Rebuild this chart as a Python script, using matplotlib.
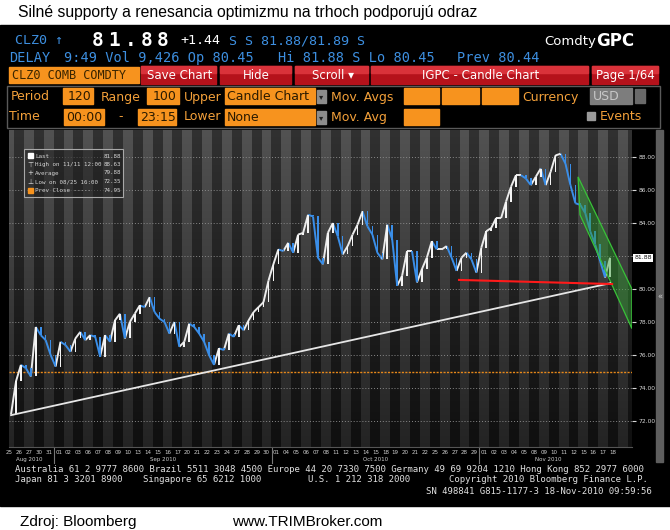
import matplotlib
matplotlib.use("Agg")
import matplotlib.pyplot as plt
from matplotlib.patches import Rectangle, Polygon
from matplotlib.collections import LineCollection
import numpy as np

# trading days on the date axis
aug_days = [25, 26, 27, 30, 31]
sep_days = [1, 2, 3, 6, 7, 8, 9, 10, 13, 14, 15, 16, 17, 20, 21, 22, 23, 24, 27, 28, 29, 30]
oct_days = [1, 4, 5, 6, 7, 8, 11, 12, 13, 14, 15, 18, 19, 20, 21, 22, 25, 26, 27, 28, 29]
nov_days = [1, 2, 3, 4, 5, 8, 9, 10, 11, 12, 15, 16, 17, 18]
month_names = ["Aug 2010", "Sep 2010", "Oct 2010", "Nov 2010"]

# CLZ0 closes, two bars per trading day, from 08/25 16:00 to 11/18 10:00
first_bar_day = 0.69
bars_per_day = 2
closes = [
    72.4, 74.4, 75.4, 75.2, 74.7, 77.7, 77.2, 76.9, 76.0, 75.3,
    76.8, 76.6, 76.2, 77.0, 77.4, 76.9, 77.2, 77.1, 75.9, 77.2,
    76.8, 78.1, 78.5, 77.0, 78.0, 78.5, 79.0, 78.9, 79.5, 78.6,
    78.2, 78.0, 77.3, 78.0, 76.5, 76.8, 77.9, 77.7, 77.3, 76.8,
    76.0, 75.4, 76.4, 76.3, 77.3, 77.1, 77.8, 77.5, 78.1, 78.6,
    78.9, 79.2, 80.5, 81.5, 82.4, 82.3, 82.8, 82.2, 83.3, 83.4,
    84.5, 84.4, 81.9, 81.5, 83.4, 84.0, 83.2, 82.1, 82.6, 83.3,
    83.9, 84.7, 83.8, 83.3, 82.2, 81.8, 83.9, 83.0, 80.2, 80.8,
    82.3, 82.3, 80.4, 81.2, 81.9, 82.9, 82.4, 82.4, 82.6, 81.9,
    81.1, 81.9, 82.2, 81.8, 81.0, 82.5, 83.5, 83.7, 84.3, 84.3,
    85.3, 86.2, 86.9, 86.9, 86.7, 86.3, 86.8, 87.3, 86.3, 87.1,
    88.1, 88.2, 87.6, 86.3, 85.2, 85.1, 84.6, 83.5, 82.7, 81.7,
    80.7, 81.9,
]

last_price = 81.88
prev_close = 74.95
trend_x = [0.69, 61.2]
trend_y = [72.35, 80.35]
support_x = [45.94, 61.4]
support_y = [80.55, 80.30]
channel_x = [57.96, 63.4, 63.4, 58.16]
channel_y = [86.8, 80.0, 77.6, 84.5]
yticks = [72, 74, 76, 78, 80, 82, 84, 86, 88]
legend_rows = [("Last", "81.88"), ("High on 11/11 12:00", "88.63"), ("Average", "79.88"),
               ("Low on 08/25 16:00", "72.35"), ("Prev Close -----", "74.95")]

mono = "DejaVu Sans Mono"
blue = "#3d8fe0"
orange = "#f7931e"
otext = "#f3a03a"

fig = plt.figure(figsize=(6.7, 5.3), dpi=100)
fig.patch.set_facecolor("white")

bg = fig.add_axes([0, 0, 1, 1])
bg.set_xlim(0, 670)
bg.set_ylim(530, 0)
bg.axis("off")
bg.add_patch(Rectangle((0, 25), 670, 481, color="black"))

bg.text(18, 13, "Silné supporty a renesancia optimizmu na trhoch podporujú odraz",
        family="Liberation Sans", fontsize=11.3, va="center", color="black")
bg.text(20, 522, "Zdroj: Bloomberg", family="Liberation Sans", fontsize=11, va="center")
bg.text(232, 522, "www.TRIMBroker.com", family="Liberation Sans", fontsize=11, va="center")

# header rows
bg.text(15, 41, "CLZ0 ↑", family=mono, fontsize=9.6, color=blue, va="center")
for j, ch in enumerate(f"{last_price:.2f}"):
    bg.text(98 + 16.2 * j, 41, ch, family=mono, fontsize=14, weight="bold", color="white",
            va="center", ha="center")
bg.text(180, 41, "+1.44", family=mono, fontsize=9.6, color="white", va="center")
bg.text(229, 41, "S S 81.88/81.89 S", family=mono, fontsize=9.6, color=blue, va="center")
bg.text(596, 41, "Comdty", family="DejaVu Sans", fontsize=9.5, color="white", va="center", ha="right")
bg.text(596, 41, "GPC", family="DejaVu Sans", fontsize=12, weight="bold", color="white", va="center")

bg.text(9, 58, "DELAY", family=mono, fontsize=9.8, color=blue, va="center")
bg.text(64, 58, "9:49 Vol 9,426 Op 80.45", family=mono, fontsize=9.8, color=blue, va="center")
bg.text(278, 58, "Hi 81.88 S Lo 80.45", family=mono, fontsize=9.8, color=blue, va="center")
bg.text(457, 58, "Prev 80.44", family=mono, fontsize=9.8, color=blue, va="center")

# button row
bg.add_patch(Rectangle((9, 67), 130, 16, color=orange))
bg.text(12, 75.5, "CLZ0 COMB COMDTY", family=mono, fontsize=8.6, color="#3a2500", va="center")
buttons = [(141, 77, "Save Chart"), (220, 73, "Hide"), (295, 75, "Scroll ▾"),
           (371, 219, "IGPC - Candle Chart"), (592, 68, "Page 1/64")]
for x0, w, label in buttons:
    bg.add_patch(Rectangle((x0, 66), w - 2, 18, color="#b5121b"))
    bg.add_patch(Rectangle((x0, 66), w - 2, 7, color="#d9323a"))
    ha = "left" if label.startswith("Page") else "center"
    tx = x0 + 4 if ha == "left" else x0 + w / 2
    bg.text(tx, 75.5, label, fontsize=8.5, color="white", va="center", ha=ha)

# settings panel
bg.add_patch(Rectangle((7, 86), 653, 42, fill=False, ec="#5a5a5a", lw=1))
for x, y, s in [(11, 97, "Period"), (101, 97, "Range"), (184, 97, "Upper"), (331, 97, "Mov. Avgs"),
                (522, 97, "Currency"), (9, 117, "Time"), (118, 117, "-"), (184, 117, "Lower"),
                (331, 117, "Mov. Avg"), (600, 117, "Events")]:
    bg.text(x, y, s, fontsize=9, color=otext, va="center")
boxes = [(63, 88, 30, "120", "right"), (147, 88, 32, "100", "right"), (225, 88, 90, "Candle Chart", "left"),
         (404, 88, 35, "", "left"), (442, 88, 37, "", "left"), (482, 88, 36, "", "left"),
         (64, 109, 40, "00:00", "left"), (138, 109, 38, "23:15", "left"), (225, 109, 90, "None", "left"),
         (404, 109, 35, "", "left")]
for x0, y0, w, s, ha in boxes:
    bg.add_patch(Rectangle((x0, y0), w, 16, color=orange))
    tx = x0 + w - 2 if ha == "right" else x0 + 2
    bg.text(tx, y0 + 8.5, s, fontsize=9, color="#2a1a00", va="center", ha=ha)
for y0 in (88, 109):
    bg.add_patch(Rectangle((317, y0 + 2), 9, 13, color="#8c8c8c"))
    bg.text(321.5, y0 + 9, "▾", fontsize=6, color="#222", ha="center", va="center")
bg.add_patch(Rectangle((590, 88), 42, 16, color="#7d7d7d"))
bg.text(593, 96.5, "USD", fontsize=9, color="#c8c8c8", va="center")
bg.add_patch(Rectangle((635, 89), 10, 14, color="#6a6a6a"))
bg.add_patch(Rectangle((587, 112), 8, 8, color="#9a9a9a"))

# footer
foot = "Australia 61 2 9777 8600 Brazil 5511 3048 4500 Europe 44 20 7330 7500 Germany 49 69 9204 1210 Hong Kong 852 2977 6000"
bg.text(15, 469, foot, family=mono, fontsize=6.45, color="#e0e0e0", va="center")
for x, s in [(15, "Japan 81 3 3201 8900"), (143, "Singapore 65 6212 1000"), (308, "U.S. 1 212 318 2000"),
             (449, "Copyright 2010 Bloomberg Finance L.P.")]:
    bg.text(x, 480, s, family=mono, fontsize=6.45, color="#e0e0e0", va="center")
bg.text(652, 491, "SN 498841 G815-1177-3 18-Nov-2010 09:59:56", family=mono, fontsize=6.45,
        color="#e0e0e0", va="center", ha="right")

# scrollbar
bg.add_patch(Rectangle((656, 130), 7, 332, color="#5e5e5e"))
bg.text(659.5, 297, "«", fontsize=6, color="#cccccc", ha="center", va="center")

# chart
ax = fig.add_axes([9 / 670, (530 - 447) / 530, 623 / 670, 317 / 530])
ylo, yhi = 70.42, 89.64
all_days = aug_days + sep_days + oct_days + nov_days
nb = 64
yy = np.linspace(0, 1, 90)[:, None]
light = 0.14 + 0.18 * yy
dark = 0.06 + 0.13 * yy
img = np.where(np.arange(nb)[None, :] % 2 == 0, light, dark)
ax.imshow(np.dstack([img, img, img]), extent=(0, nb, ylo, yhi), origin="lower",
          aspect="auto", interpolation="nearest", zorder=0)
ax.set_xlim(0.485, 63.41)
ax.set_ylim(ylo, yhi)

ax.set_yticks(yticks)
# the 82.00 label sits under the last-price tag
ax.set_yticklabels(["" if abs(v - last_price) < 0.5 else f"{v:.2f}" for v in yticks])
ax.yaxis.tick_right()
ax.tick_params(axis="y", colors="#d8d8d8", labelsize=4.3, length=3, width=0.8, pad=1.5)
ax.grid(axis="y", color="#8a8a8a", ls=(0, (1, 2)), lw=0.7)
ax.set_axisbelow(True)

centers = np.arange(len(all_days)) + 0.5
ax.set_xticks(centers, [str(d) if i < 5 else f"{d:02d}" for i, d in enumerate(all_days)])
ax.tick_params(axis="x", colors="#cfcfcf", labelsize=4, length=0, pad=2)
bounds = np.cumsum([0, len(aug_days), len(sep_days), len(oct_days), len(nov_days)])
for k, name in enumerate(month_names):
    ax.text((bounds[k] + bounds[k + 1]) / 2, -0.038, name, transform=ax.get_xaxis_transform(),
            ha="center", va="center", fontsize=4, color="#cfcfcf")
for b in bounds[1:4]:
    ax.plot([b, b], [0, -0.05], transform=ax.get_xaxis_transform(), color="#777777",
            lw=0.8, clip_on=False)
for s in ax.spines.values():
    s.set_visible(False)
ax.spines["bottom"].set_visible(True)
ax.spines["bottom"].set_color("#555555")

c = np.array(closes)
t = first_bar_day + np.arange(len(c)) / bars_per_day
o = np.r_[c[0], c[:-1]]
up = c >= o
ax.axhline(prev_close, color="#e8891a", lw=1, ls=(0, (1.5, 1)), zorder=2)
segs = np.stack([np.column_stack([t[:-1], c[:-1]]), np.column_stack([t[1:], c[1:]])], axis=1)
seg_cols = ["#ececec" if u else "#3a8ee8" for u in up[1:]]
ax.add_collection(LineCollection(segs, colors=seg_cols, linewidths=1.4, zorder=3))
ax.bar(t[up], (c - o)[up], bottom=o[up], width=0.16, color="#f4f4f4", zorder=4)
ax.bar(t[~up], (c - o)[~up], bottom=o[~up], width=0.16, color="#3a8ee8", zorder=4)

ax.add_patch(Polygon(list(zip(channel_x, channel_y)), closed=True, fc="#2f9c2f", alpha=0.45,
                     ec="none", zorder=5))
ax.add_patch(Polygon(list(zip(channel_x, channel_y)), closed=True, fill=False, ec="#38c238",
                     lw=0.9, zorder=5))
ax.plot(trend_x, trend_y, color="#e6e6e6", lw=1.3, zorder=6)
ax.plot(support_x, support_y, color="#ff1a1a", lw=1.5, zorder=7)

ax.text(1.004, last_price, f"{last_price:.2f}", transform=ax.get_yaxis_transform(), fontsize=4.5,
        color="#111111", ha="left", va="center", clip_on=False, zorder=10,
        bbox=dict(boxstyle="square,pad=0.2", fc="white", ec="none"))

# legend box
ov = fig.add_axes([0, 0, 1, 1])
ov.set_xlim(0, 670)
ov.set_ylim(530, 0)
ov.axis("off")
ov.add_patch(Rectangle((24, 149), 99, 48, fc="#202020", alpha=0.55, ec="none"))
ov.add_patch(Rectangle((24, 149), 99, 48, fill=False, ec="#a8a8a8", lw=0.8))
row_y = [156, 164.5, 173, 181.5, 190]
for (label, val), y in zip(legend_rows, row_y):
    ov.text(35, y, label, family=mono, fontsize=4.2, color="#d4d4d4", va="center")
    ov.text(121, y, val, family=mono, fontsize=4.2, color="#d4d4d4", va="center", ha="right")
ov.add_patch(Rectangle((28, 153), 5, 5, color="white"))
ov.text(30.5, 164.5, "⊤", fontsize=5, color="#dddddd", ha="center", va="center")
ov.text(30.5, 173, "+", fontsize=5, color="#dddddd", ha="center", va="center")
ov.text(30.5, 181.5, "⊥", fontsize=5, color="#dddddd", ha="center", va="center")
ov.add_patch(Rectangle((28, 187.5), 5, 5, color=orange))

fig.savefig("out.png", dpi=100, facecolor="white")
